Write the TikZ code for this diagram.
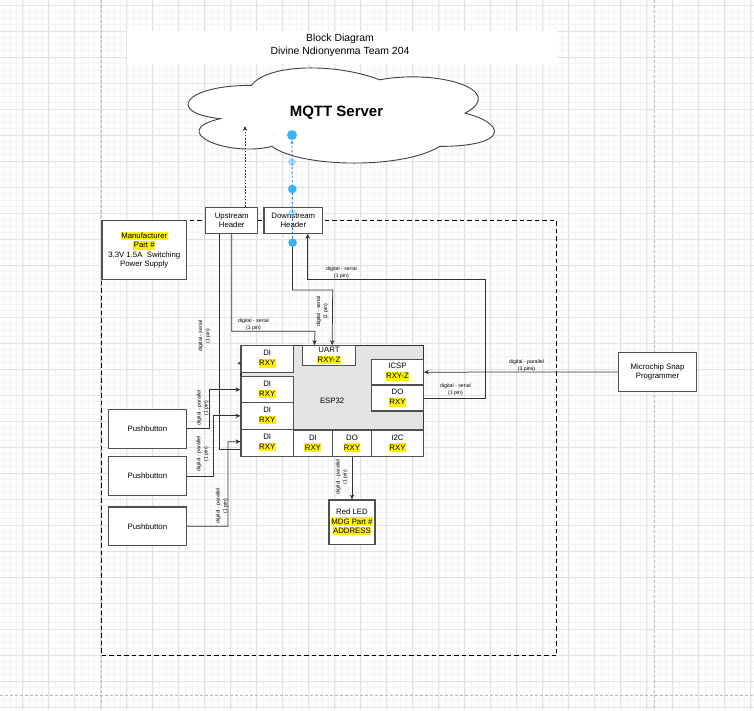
\documentclass[tikz,border=0pt]{standalone}
\usepackage{fontspec}
\setmainfont{Liberation Sans}
\usetikzlibrary{arrows.meta,calc}

\definecolor{gridmajor}{RGB}{226,226,226}
\definecolor{gridminor}{RGB}{244,244,244}
\definecolor{pageline}{RGB}{188,188,188}
\definecolor{chipfill}{RGB}{228,228,228}
\definecolor{linegray}{RGB}{51,51,51}
\definecolor{boxgray}{RGB}{80,80,80}
\definecolor{selblue}{RGB}{40,130,228}
\definecolor{handleblue}{RGB}{58,178,245}

% yellow text highlight
\newcommand{\hly}[1]{{\setlength{\fboxsep}{0pt}\colorbox{yellow}{\kern0.4pt\rule[-1.8pt]{0pt}{8.4pt}#1\kern0.4pt}}}

\tikzset{
  blk/.style={draw=boxgray, line width=1.1pt, fill=white, align=center, inner sep=0pt,
    font=\fontsize{7.8}{9.4}\selectfont},
  port/.style={blk, font=\fontsize{7.8}{10}\selectfont},
  wire/.style={draw=linegray, line width=0.75pt},
  arr/.style={-{Stealth[length=5pt,width=4.4pt]}},
  lbl/.style={font=\fontsize{5.2}{7.2}\selectfont, align=center, inner sep=0pt, text=black},
  vlbl/.style={lbl, rotate=90},
}

\begin{document}
\begin{tikzpicture}[x=1pt,y=-1pt]
\useasboundingbox (0,0) rectangle (754,710);
\fill[white] (0,0) rectangle (754,710);

% background grid
\foreach \i in {0,...,117}
  \draw[gridminor, line width=0.4pt] ({-3.3+6.5*\i},0) -- ++(0,710);
\foreach \j in {0,...,110}
  \draw[gridminor, line width=0.4pt] (0,{-1.5+6.5*\j}) -- ++(754,0);
\foreach \i in {-1,...,28}
  \draw[gridmajor, line width=0.6pt] ({22.7+26*\i},0) -- ++(0,710);
\foreach \j in {0,...,27}
  \draw[gridmajor, line width=0.6pt] (0,{5+26*\j}) -- ++(754,0);

% page breaks
\draw[pageline, line width=0.6pt, dash pattern=on 3pt off 2pt] (101,0) -- (101,710);
\draw[pageline, line width=0.6pt, dash pattern=on 3pt off 2pt] (654.7,0) -- (654.7,710);
\draw[pageline, line width=0.6pt, dash pattern=on 3pt off 2pt] (0,695) -- (754,695);

% title
\node[fill=white, minimum width=430pt, minimum height=33pt, inner sep=0pt] (titlebox) at (342,47.5) {};
\node[font=\fontsize{10.4}{13}\selectfont, align=center, inner sep=0pt] (title) at (340,45.3)
  {Block Diagram\\Divine Ndionyenma Team 204};

% cloud
\draw[fill=white, draw=black!75, line width=0.9pt]
  (251.3,85.35) .. controls (182.9,85.35) and (165.8,113.1) .. (220.5,118.65)
  .. controls (165.8,130.9) and (227.4,157.5) .. (271.8,146.4)
  .. controls (302.6,168.6) and (405.2,168.6) .. (439.4,146.4)
  .. controls (507.8,146.4) and (507.8,124.2) .. (465.05,113.1)
  .. controls (507.8,90.9) and (439.4,68.7) .. (379.55,79.8)
  .. controls (336.8,63.15) and (268.4,63.15) .. (251.3,85.35) -- cycle;
\node[font=\bfseries\fontsize{15}{18}\selectfont, inner sep=0pt] (mqtt) at (336.5,113) {MQTT Server};

% board outline
\draw[black, line width=1.3pt, dash pattern=on 4.5pt off 3pt] (101.7,220.7) rectangle (556.7,655.7);

% headers
\node[blk, minimum width=52pt, minimum height=26pt] (up) at (231.7,220.3) {Upstream\\Header};
\node[blk, minimum width=58.7pt, minimum height=26pt] (down) at (293.35,220.3) {Downstream\\Header};

% power supply
\node[blk, minimum width=84.5pt, minimum height=58.8pt] (psu) at (144.25,250)
  {\hly{Manufacturer}\\\hly{Part \#}\\3.3V 1.5A\ \ Switching\\Power Supply};

% ESP32 and its ports
\node[blk, draw=linegray, fill=chipfill, line width=1.2pt, minimum width=182.3pt, minimum height=110.8pt] (esp) at (332.15,401.1) {ESP32};
\node[port, minimum width=52.5pt, minimum height=26.6pt] (di1) at (267.25,359) {DI\\\hly{RXY}};
\node[port, minimum width=52.5pt, minimum height=25.8pt] (di2) at (267.25,389.6) {DI\\\hly{RXY}};
\node[port, minimum width=52.5pt, minimum height=26.7pt] (di3) at (267.25,415.85) {DI\\\hly{RXY}};
\node[port, minimum width=52.5pt, minimum height=27.3pt] (di4) at (267.25,442.85) {DI\\\hly{RXY}};
\node[port, minimum width=52.6pt, minimum height=20pt, font=\fontsize{7.8}{9.3}\selectfont] (uart) at (329,355.7) {UART\\\hly{RXY-Z}};
\node[port, minimum width=51.6pt, minimum height=25.7pt] (icsp) at (397.5,372.15) {ICSP\\\hly{RXY-Z}};
\node[port, minimum width=51.6pt, minimum height=26pt] (dor) at (397.5,398) {DO\\\hly{RXY}};
\node[port, minimum width=38.8pt, minimum height=26.5pt] (dib) at (312.9,443.25) {DI\\\hly{RXY}};
\node[port, minimum width=39.4pt, minimum height=26.5pt] (dob) at (352,443.25) {DO\\\hly{RXY}};
\node[port, minimum width=51.6pt, minimum height=26.5pt] (i2c) at (397.5,443.25) {I2C\\\hly{RXY}};

% inputs and outputs
\node[blk, minimum width=78.4pt, minimum height=39.2pt] (pb1) at (147.4,428.8) {Pushbutton};
\node[blk, minimum width=78.4pt, minimum height=39.2pt] (pb2) at (147.4,476.2) {Pushbutton};
\node[blk, minimum width=78.4pt, minimum height=38.7pt] (pb3) at (147.4,526.35) {Pushbutton};
\node[blk, minimum width=78.4pt, minimum height=39.4pt] (snap) at (657.5,372) {Microchip Snap\\Programmer};
\node[blk, minimum width=46pt, minimum height=44.3pt] (led) at (352,522.15) {Red LED\\\hly{MDG Part \#}\\\hly{ADDRESS}};

% connectors
\coordinate (cloudin) at (245,126);
\draw[linegray, line width=0.7pt, dash pattern=on 1.6pt off 1.6pt, arr] ([xshift=13.3pt]up.north) -- (cloudin);

\draw[wire, arr] (up.south) |- (315,331.3) -- ([xshift=12.3pt]uart.north west);
\node[lbl] (l1) at (253.5,324.7) {digital - serial\\(1 pin)};

\coordinate (dsel) at (292.6,242.7);
\draw[wire, arr] (dsel) |- (332.7,290) -- ([xshift=30pt]uart.north west);
\node[vlbl] (l2) at (322.3,311.5) {digital - serial\\(1 pin)};

\draw[wire] ([xshift=-12.7pt]up.south) |- ([yshift=-6.85pt]di4.west);
\node[vlbl] (l3) at (204.5,336) {digital - serial\\(1 pin)};

\draw[wire, -{Stealth[length=4pt,width=3.5pt]}] ([xshift=-1.5pt,yshift=-5.5pt]di1.west) -- ([xshift=0.2pt,yshift=-2pt]di1.west);

\draw[wire, arr] (pb1.east) -| (209,389.6) -- (di2.west);
\node[vlbl] (l4) at (202.8,408) {digital - parallel\\(1 pin)};
\draw[wire, arr] (pb2.east) -| (213.5,415.85) -- (di3.west);
\node[vlbl] (l5) at (202.6,454) {digital - parallel\\(1 pin)};
\draw[wire, arr] (pb3.east) -| (228,441.65) -- ([yshift=1.2pt]di4.west);
\node[vlbl] (l6) at (222,506) {digital - parallel\\(1 pin)};

\draw[wire, arr] (snap.west) -- (icsp.east);
\node[lbl] (l7) at (526.5,366) {digital - parallel\\(3 pins)};

\draw[wire, arr] (dor.east) -| (485.7,279.2) -| ([xshift=14.35pt]down.south);
\node[lbl] (l8) at (455.5,389.5) {digital - serial\\(1 pin)};
\node[lbl] (l9) at (341.5,272.7) {digital - serial\\(1 pin)};

\draw[wire, arr] (dob.south) -- (led.north);
\node[vlbl] (l10) at (341.8,477) {digital - parallel\\(1 pin)};

% selected link with its handles
\coordinate (selTop) at (292,135);
\draw[selblue, line width=0.9pt, dash pattern=on 2.5pt off 1.8pt, -{Stealth[length=3.5pt,width=3pt]}] (dsel) -- ([yshift=-5.5pt]selTop);
\fill[handleblue] (selTop) circle (5pt);
\fill[handleblue, opacity=0.4] (292,162) circle (4pt);
\fill[handleblue] (292.3,189) circle (4.3pt);
\fill[handleblue, opacity=0.35] (292.3,212.7) circle (4pt);
\fill[handleblue] (dsel) circle (4.3pt);
\end{tikzpicture}
\end{document}
